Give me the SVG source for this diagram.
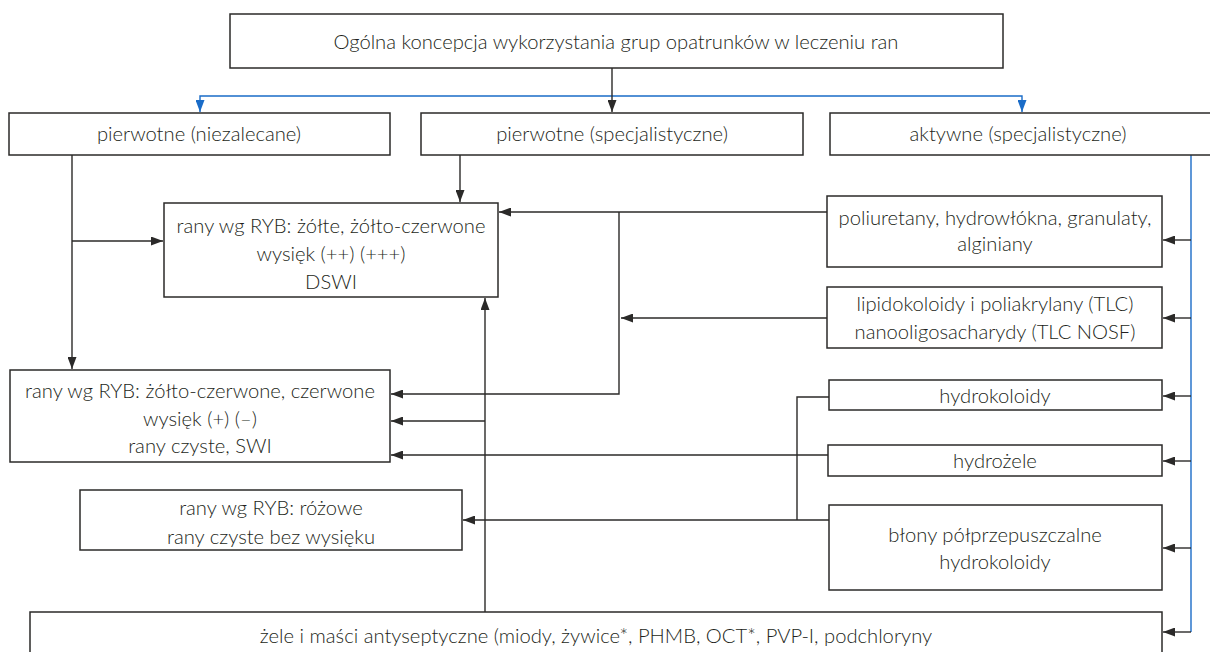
<svg xmlns="http://www.w3.org/2000/svg" width="1210" height="652" viewBox="0 0 1210 652">
<style>
.box{fill:#fff;stroke:#2b2a29;stroke-width:1.5}
.t{font-family:Lato,"Open Sans",sans-serif;font-size:20.2px;font-weight:300;fill:#231f20;text-anchor:middle}
.k{fill:none;stroke:#2b2a29;stroke-width:1.4}
.b{fill:none;stroke:#1a6cc8;stroke-width:1.4}
</style>
<defs>
<marker id="ak" viewBox="0 0 12 9" refX="12" refY="4.5" markerWidth="12" markerHeight="9" markerUnits="userSpaceOnUse" orient="auto"><path d="M0,0 L12,4.5 L0,9 Z" fill="#2b2a29"/></marker>
<marker id="ab" viewBox="0 0 12 9" refX="12" refY="4.5" markerWidth="12" markerHeight="9" markerUnits="userSpaceOnUse" orient="auto"><path d="M0,0 L12,4.5 L0,9 Z" fill="#1a6cc8"/></marker>
</defs>
<rect width="1210" height="652" fill="#fff"/>
<g id="connectors">
<path class="b" d="M612,96 H200 V112" marker-end="url(#ab)"/>
<path class="b" d="M612,96 H1022 V112" marker-end="url(#ab)"/>
<path class="k" d="M612,68 V112" marker-end="url(#ak)"/>
<path class="b" d="M1191,155 V632"/>
<path class="k" d="M1191,240 H1163" marker-end="url(#ak)"/>
<path class="k" d="M1191,318 H1163" marker-end="url(#ak)"/>
<path class="k" d="M1191,396 H1163" marker-end="url(#ak)"/>
<path class="k" d="M1191,461 H1163" marker-end="url(#ak)"/>
<path class="k" d="M1191,548 H1163" marker-end="url(#ak)"/>
<path class="k" d="M1191,632 H1163" marker-end="url(#ak)"/>
<path class="k" d="M72,155 V369" marker-end="url(#ak)"/>
<path class="k" d="M72,241 H163" marker-end="url(#ak)"/>
<path class="k" d="M460,155 V202" marker-end="url(#ak)"/>
<path class="k" d="M827,212 H499" marker-end="url(#ak)"/>
<path class="k" d="M619,212 V394 H391" marker-end="url(#ak)"/>
<path class="k" d="M827,318 H621" marker-end="url(#ak)"/>
<path class="k" d="M485,612 V298" marker-end="url(#ak)"/>
<path class="k" d="M485,421 H391" marker-end="url(#ak)"/>
<path class="k" d="M828,455 H391" marker-end="url(#ak)"/>
<path class="k" d="M829,397 H797 V520"/>
<path class="k" d="M829,520 H463" marker-end="url(#ak)"/>
</g>
<g id="n-top"><rect class="box" x="230" y="14" width="773" height="54"/><text class="t" x="616" y="49">Ogólna koncepcja wykorzystania grup opatrunków w leczeniu ran</text></g>
<g id="n-pn"><rect class="box" x="9" y="113" width="381" height="42"/><text class="t" x="199" y="141">pierwotne (niezalecane)</text></g>
<g id="n-ps"><rect class="box" x="421" y="113" width="382" height="42"/><text class="t" x="612" y="141">pierwotne (specjalistyczne)</text></g>
<g id="n-as"><rect class="box" x="830" y="113" width="390" height="42"/><text class="t" x="1018" y="141">aktywne (specjalistyczne)</text></g>
<g id="n-a"><rect class="box" x="164" y="203" width="334" height="94"/><text class="t" x="331" y="233">rany wg RYB: żółte, żółto-czerwone</text><text class="t" x="331" y="261">wysięk (++) (+++)</text><text class="t" x="331" y="289">DSWI</text></g>
<g id="n-pol"><rect class="box" x="827" y="196" width="335" height="71"/><text class="t" x="995" y="225">poliuretany, hydrowłókna, granulaty,</text><text class="t" x="995" y="251">alginiany</text></g>
<g id="n-lip"><rect class="box" x="827" y="287" width="335" height="61"/><text class="t" x="995" y="311">lipidokoloidy i poliakrylany (TLC)</text><text class="t" x="995" y="339">nanooligosacharydy (TLC NOSF)</text></g>
<g id="n-b"><rect class="box" x="10" y="370" width="380" height="92"/><text class="t" x="200" y="398">rany wg RYB: żółto-czerwone, czerwone</text><text class="t" x="200" y="426">wysięk (+) (–)</text><text class="t" x="200" y="453">rany czyste, SWI</text></g>
<g id="n-hk"><rect class="box" x="829" y="380" width="333" height="30"/><text class="t" x="995" y="403">hydrokoloidy</text></g>
<g id="n-hz"><rect class="box" x="828" y="445" width="334" height="31"/><text class="t" x="995" y="468">hydrożele</text></g>
<g id="n-c"><rect class="box" x="80" y="490" width="382" height="60"/><text class="t" x="271" y="515">rany wg RYB: różowe</text><text class="t" x="271" y="544">rany czyste bez wysięku</text></g>
<g id="n-bl"><rect class="box" x="829" y="505" width="333" height="85"/><text class="t" x="995" y="542">błony półprzepuszczalne</text><text class="t" x="995" y="569">hydrokoloidy</text></g>
<g id="n-z"><rect class="box" x="30" y="612" width="1132" height="60"/><text class="t" x="596" y="643">żele i maści antyseptyczne (miody, żywice*, PHMB, OCT*, PVP-I, podchloryny</text></g>
</svg>
